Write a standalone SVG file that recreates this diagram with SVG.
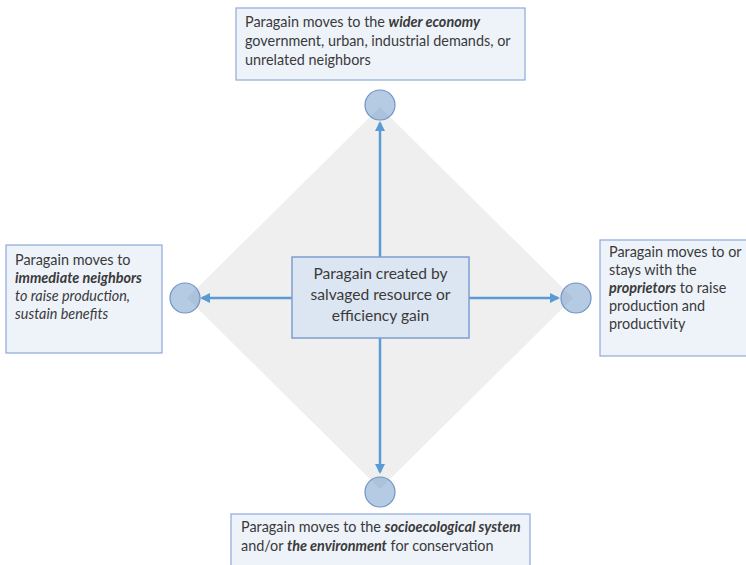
<svg xmlns="http://www.w3.org/2000/svg" width="746" height="565" viewBox="0 0 746 565">
<defs>
<style>
.box{fill:#eef3fa;stroke:#8eaadb;stroke-width:1.2}
.cbox{fill:#dce6f2;stroke:#7f9fcf;stroke-width:1.5}
.t{font-family:Lato,"Liberation Sans",sans-serif;font-size:14.4px;fill:#3a3a3a}
.ct{font-family:Lato,"Liberation Sans",sans-serif;font-size:15.6px;fill:#3a3a3a;text-anchor:middle}
.b{font-weight:bold;font-style:italic}
.i{font-style:italic}
.dot{fill:#4f81bd;fill-opacity:0.42;stroke:#6f93c6;stroke-width:1.2}
.arr{stroke:#5b9bd5;stroke-width:2.5;fill:none;marker-end:url(#ah)}
</style>
<marker id="ah" viewBox="0 0 10 10" refX="8" refY="5" markerWidth="4" markerHeight="4" orient="auto" markerUnits="strokeWidth">
<path d="M0,0 L10,5 L0,10 z" fill="#5b9bd5"/>
</marker>
</defs>
<rect width="746" height="565" fill="#ffffff"/>
<polygon id="diamond" points="380,107 573,298 380,489 187,298" fill="#efefef"/>
<g id="connectors">
<line class="arr" x1="380" y1="257" x2="380" y2="123"/>
<line class="arr" x1="380" y1="338" x2="380" y2="472"/>
<line class="arr" x1="292" y1="298" x2="202" y2="298"/>
<line class="arr" x1="469" y1="298" x2="558" y2="298"/>
</g>
<g id="dots">
<circle class="dot" cx="380" cy="105" r="15"/>
<circle class="dot" cx="185" cy="298" r="15"/>
<circle class="dot" cx="576" cy="298" r="15"/>
<circle class="dot" cx="380" cy="492" r="15"/>
</g>
<g id="center">
<rect class="cbox" x="292" y="257" width="177" height="81"/>
<text class="ct" x="380.5" y="279">Paragain created by</text>
<text class="ct" x="380.5" y="300">salvaged resource or</text>
<text class="ct" x="380.5" y="321">efficiency gain</text>
</g>
<g id="top">
<rect class="box" x="236" y="8" width="289" height="72"/>
<text class="t" x="245" y="27">Paragain moves to the <tspan class="b">wider economy</tspan></text>
<text class="t" x="245" y="46">government, urban, industrial demands, or</text>
<text class="t" x="245" y="65">unrelated neighbors</text>
</g>
<g id="left">
<rect class="box" x="6" y="245" width="156" height="108"/>
<text class="t" x="15" y="265">Paragain moves to</text>
<text class="t b" x="15" y="283">immediate neighbors</text>
<text class="t i" x="15" y="301">to raise production,</text>
<text class="t i" x="15" y="319">sustain benefits</text>
</g>
<g id="right">
<rect class="box" x="600" y="240" width="150" height="116"/>
<text class="t" x="609" y="257">Paragain moves to or</text>
<text class="t" x="609" y="275">stays with the</text>
<text class="t" x="609" y="293"><tspan class="b">proprietors</tspan> to raise</text>
<text class="t" x="609" y="311">production and</text>
<text class="t" x="609" y="329">productivity</text>
</g>
<g id="bottom">
<rect class="box" x="231" y="514" width="299" height="55"/>
<text class="t" x="241" y="532">Paragain moves to the <tspan class="b">socioecological system</tspan></text>
<text class="t" x="241" y="551">and/or <tspan class="b">the environment</tspan> for conservation</text>
</g>
</svg>
